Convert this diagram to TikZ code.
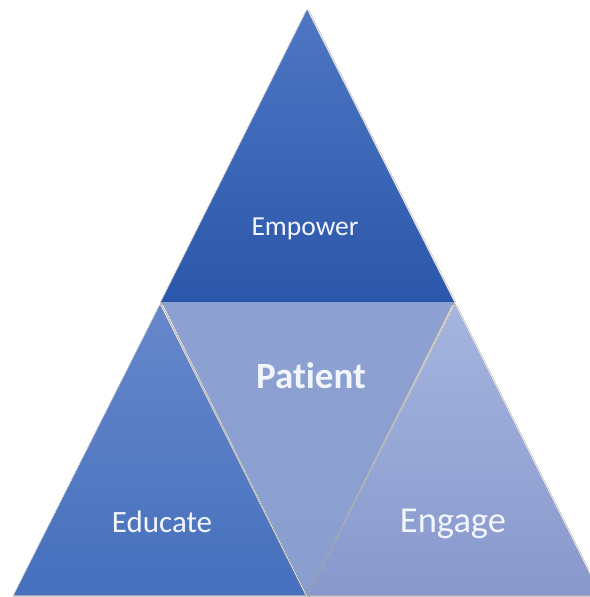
\documentclass[tikz,border=0pt]{standalone}
\usepackage{fontspec}
\setmainfont{Carlito}[Ligatures={NoCommon,NoRare,NoContextual}]
\usetikzlibrary{shadows.blur}
\definecolor{topA}{HTML}{4E76C4}
\definecolor{topB}{HTML}{2B57AA}
\definecolor{leftA}{HTML}{6787CB}
\definecolor{leftB}{HTML}{4570BD}
\definecolor{midA}{HTML}{8CA1D2}
\definecolor{midB}{HTML}{8A9ECF}
\definecolor{rightA}{HTML}{A5B5DF}
\definecolor{rightB}{HTML}{8898CC}
\definecolor{txt}{HTML}{F2F5FC}
\tikzset{
  tri/.style={blur shadow={shadow xshift=0.6pt,shadow yshift=-1.2pt,shadow blur radius=1.5pt,shadow opacity=40}},
  lbl/.style={text=txt,inner sep=0pt,anchor=center}
}
\begin{document}
\begin{tikzpicture}[x=1pt,y=-1pt]
\useasboundingbox[fill=white] (0,0) rectangle (589,597);
% top triangle
\shade[tri,top color=topA,bottom color=topB] (307,10) -- (454,302) -- (161,302) -- cycle;
% left triangle
\shade[tri,top color=leftA,bottom color=leftB] (160,305) -- (305,595) -- (14,595) -- cycle;
% middle inverted triangle
\shade[tri,top color=midA,bottom color=midB] (162,302) -- (453,302) -- (307,595) -- cycle;
% right triangle
\shade[tri,top color=rightA,bottom color=rightB] (455,305) -- (600,595) -- (308,595) -- cycle;
\node[lbl,font=\fontsize{27.5}{30}\selectfont] (empower) at (305,229) {Empower};
\node[lbl,font=\bfseries\fontsize{37}{40}\selectfont] (patient) at (311,376) {Patient};
\node[lbl,font=\fontsize{31}{34}\selectfont] (educate) at (162,522) {Educate};
\node[lbl,font=\fontsize{36.5}{40}\selectfont] (engage) at (453,524) {Engage};
\end{tikzpicture}
\end{document}
